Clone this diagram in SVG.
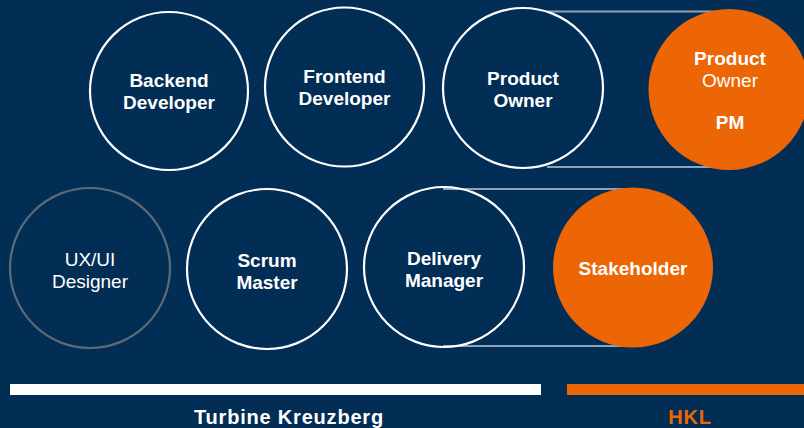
<svg xmlns="http://www.w3.org/2000/svg" width="804" height="428" viewBox="0 0 804 428">
<style>
.bg{fill:#022d55}
.c{fill:none;stroke:#ffffff;stroke-width:2.2}
.cg{fill:none;stroke:#5d6a78;stroke-width:2.2}
.co{fill:#ec6605}
.t{font-family:"Liberation Sans",Arial,sans-serif;font-size:19px;fill:#ffffff;text-anchor:middle}
.b{font-weight:bold}
.f{font-size:20px;letter-spacing:0.8px}
.ln{stroke:#8fa2b8;stroke-width:2;fill:none}
</style>
<rect class="bg" x="0" y="0" width="804" height="428"/>
<g id="connectors">
<line class="ln" x1="547" y1="11.5" x2="713" y2="11.5"/>
<line class="ln" x1="547" y1="167" x2="713" y2="167"/>
<line class="ln" x1="443" y1="189" x2="633" y2="189"/>
<line class="ln" x1="443" y1="346" x2="633" y2="346"/>
</g>
<g id="backend"><circle class="c" cx="169" cy="91" r="79"/><text class="t b" x="169" y="87">Backend</text><text class="t b" x="169" y="109">Developer</text></g>
<g id="frontend"><circle class="c" cx="344.5" cy="87" r="79.5"/><text class="t b" x="344.5" y="83">Frontend</text><text class="t b" x="344.5" y="105">Developer</text></g>
<g id="product-owner"><circle class="c" cx="523" cy="88" r="80"/><text class="t b" x="523" y="85">Product</text><text class="t b" x="523" y="107">Owner</text></g>
<g id="product-owner-pm"><circle class="co" cx="729" cy="89.5" r="80.5"/><text class="t b" x="730" y="65">Product</text><text class="t" x="730" y="87">Owner</text><text class="t b" x="730" y="129">PM</text></g>
<g id="uxui"><circle class="cg" cx="90" cy="268" r="80"/><text class="t" x="90" y="266">UX/UI</text><text class="t" x="90" y="288">Designer</text></g>
<g id="scrum"><circle class="c" cx="267" cy="269" r="80"/><text class="t b" x="267" y="267">Scrum</text><text class="t b" x="267" y="289">Master</text></g>
<g id="delivery"><circle class="c" cx="444" cy="267" r="80"/><text class="t b" x="444" y="265">Delivery</text><text class="t b" x="444" y="287">Manager</text></g>
<g id="stakeholder"><circle class="co" cx="633" cy="267.5" r="80"/><text class="t b" x="633" y="275">Stakeholder</text></g>
<g id="legend-tk"><rect x="10" y="384" width="531" height="11" fill="#ffffff"/><text class="t b f" x="289" y="424">Turbine Kreuzberg</text></g>
<g id="legend-hkl"><rect x="567" y="384" width="237" height="11" fill="#ec6605"/><text class="t b f" x="690" y="424" style="fill:#ec6605">HKL</text></g>
</svg>
